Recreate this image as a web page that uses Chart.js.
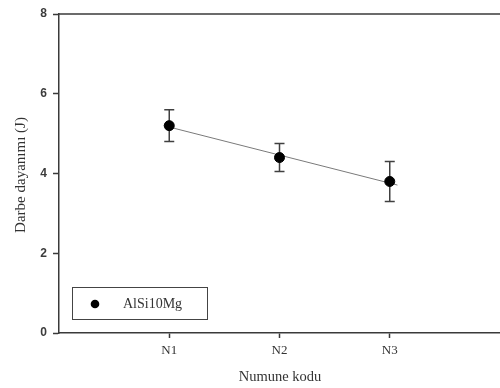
<!DOCTYPE html>
<html>
<head>
<meta charset="utf-8">
<script src="https://cdn.jsdelivr.net/npm/chart.js@4"></script>
<style>
  html, body { margin:0; padding:0; background:#fff; }
  canvas { display:block; }
</style>
</head>
<body>
<canvas id="c" width="500" height="388"></canvas>
<script>
// data
const categories = ['N1', 'N2', 'N3']
const catPos = [1, 2, 3]
const means = [5.2, 4.4, 3.8]
const errors = [0.4, 0.35, 0.5]
const trendX = [0.95, 3.07]
const trendY = [5.2, 3.71]
const yTicks = [0, 2, 4, 6, 8]
const seriesName = 'AlSi10Mg'
const xTitle = 'Numune kodu'
const yTitle = 'Darbe dayanımı (J)'

const AXIS = '#3a3a3a'
const TEXT = '#333'
const SERIF = '"Liberation Serif", "Times New Roman", serif'
const SANS = '"Liberation Sans", Arial, sans-serif'

// error bars, drawn through the scales
const errorBars = {
  id: 'errorBars',
  beforeDatasetsDraw(chart){
    const {ctx, scales:{x, y}} = chart
    ctx.save()
    ctx.strokeStyle = '#404040'
    ctx.lineWidth = 1.5
    catPos.forEach((c, i)=>{
      const px = x.getPixelForValue(c)
      const top = y.getPixelForValue(means[i] + errors[i])
      const bot = y.getPixelForValue(means[i] - errors[i])
      ctx.beginPath()
      ctx.moveTo(px, top); ctx.lineTo(px, bot)
      ctx.moveTo(px - 5, top); ctx.lineTo(px + 5, top)
      ctx.moveTo(px - 5, bot); ctx.lineTo(px + 5, bot)
      ctx.stroke()
    })
    ctx.restore()
  }
}

// frame top line, axis titles and boxed legend
const decor = {
  id: 'decor',
  afterDraw(chart){
    const {ctx, chartArea:a} = chart
    ctx.save()
    ctx.strokeStyle = AXIS
    ctx.lineWidth = 1.5
    ctx.beginPath()
    ctx.moveTo(a.left, a.top); ctx.lineTo(a.right, a.top)
    ctx.stroke()

    ctx.fillStyle = TEXT
    ctx.textAlign = 'center'
    ctx.textBaseline = 'middle'
    ctx.font = '14.5px ' + SERIF
    ctx.fillText(xTitle, 280, 377)
    ctx.save()
    ctx.font = '15px ' + SERIF
    ctx.translate(21, 175)
    ctx.rotate(-Math.PI / 2)
    ctx.fillText(yTitle, 0, 0)
    ctx.restore()

    // legend
    ctx.strokeStyle = '#444'
    ctx.lineWidth = 1
    ctx.strokeRect(72.5, 287.5, 135, 32)
    ctx.fillStyle = '#000'
    ctx.beginPath()
    ctx.arc(95, 304, 4.3, 0, Math.PI * 2)
    ctx.fill()
    ctx.fillStyle = TEXT
    ctx.textAlign = 'left'
    ctx.font = '14px ' + SERIF
    ctx.fillText(seriesName, 123, 304)
    ctx.restore()
  }
}

new Chart(document.getElementById('c'), {
  type: 'scatter',
  data: {
    datasets: [
      {
        label: seriesName,
        data: catPos.map((c, i)=> ({x: c, y: means[i]})),
        pointRadius: 5,
        pointBackgroundColor: '#000',
        pointBorderColor: '#000',
        showLine: false
      },
      {
        label: 'trend',
        data: trendX.map((v, i)=> ({x: v, y: trendY[i]})),
        showLine: true,
        pointRadius: 0,
        borderColor: '#7a7a7a',
        borderWidth: 1
      }
    ]
  },
  options: {
    responsive: false,
    animation: false,
    layout: { autoPadding: false, padding: { top: 14, right: 0, left: 0, bottom: 0 } },
    plugins: { legend: { display: false }, tooltip: { enabled: false } },
    scales: {
      x: {
        type: 'linear', min: 0, max: 4,
        afterBuildTicks: s=> { s.ticks = catPos.map(v=> ({value: v})) },
        afterFit: s=> { s.height = 55 },
        ticks: {
          callback: v=> categories[catPos.indexOf(v)] || '',
          font: { family: SERIF, size: 13 },
          color: TEXT,
          padding: 5,
          maxRotation: 0
        },
        grid: { drawOnChartArea: false, drawTicks: true, tickLength: 5, tickColor: AXIS, tickWidth: 1.5 },
        border: { color: AXIS, width: 1.5 }
      },
      y: {
        min: 0, max: 8,
        afterBuildTicks: s=> { s.ticks = yTicks.map(v=> ({value: v})) },
        afterFit: s=> { s.width = 59 },
        ticks: {
          font: { family: SANS, size: 12, weight: 'bold' },
          color: '#3c3c3c',
          padding: 6
        },
        grid: { drawOnChartArea: false, drawTicks: true, tickLength: 6, tickColor: AXIS, tickWidth: 1.5 },
        border: { color: AXIS, width: 1.5 }
      }
    }
  },
  plugins: [errorBars, decor]
})
</script>
</body>
</html>
